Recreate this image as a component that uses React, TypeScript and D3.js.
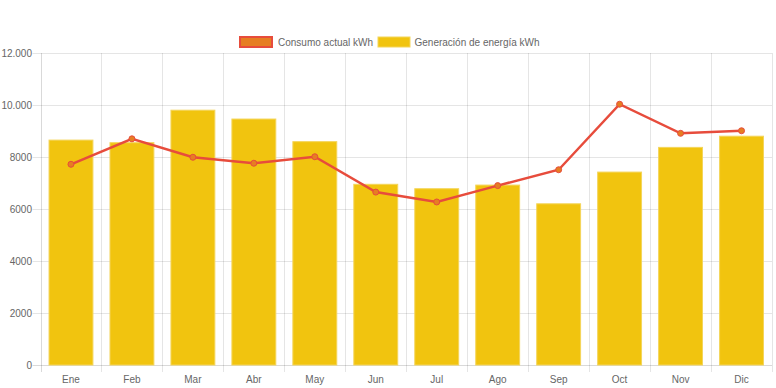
import React from "react";
import * as d3 from "d3";

const months = ["Ene", "Feb", "Mar", "Abr", "May", "Jun", "Jul", "Ago", "Sep", "Oct", "Nov", "Dic"];
const generacion = [8650, 8550, 9800, 9460, 8590, 6950, 6780, 6920, 6200, 7420, 8370, 8800];
const consumo = [7720, 8700, 7990, 7760, 8010, 6650, 6270, 6900, 7510, 10030, 8910, 9010];
const yTicks = [0, 2000, 4000, 6000, 8000, 10000, 12000];
const legendLabels = ["Consumo actual kWh", "Generación de energía kWh"];

const W = 776;
const H = 388;
const left = 40.5;
const right = 772;
const top = 53;
const bottom = 365;
const font = "'Liberation Sans', Arial, Helvetica, sans-serif";
const textColor = "#666";
const gridColor = "rgba(0,0,0,0.1)";
const fs = 10;

function fmt(v: number): string {
  if (v >= 10000) return d3.format(",")(v).replace(/,/g, ".");
  return String(v);
}

export default function App() {
  const x = d3.scaleBand<string>().domain(months).range([left, right]).paddingInner(0.28).paddingOuter(0.14);
  const step = x.step();
  const y = d3.scaleLinear().domain([0, 12000]).range([bottom, top]);
  const cx = (m: string) => (x(m) as number) + x.bandwidth() / 2;
  const line = d3
    .line<number>()
    .x((_, i) => cx(months[i]))
    .y((d) => y(d));

  const boundaries = d3.range(months.length + 1).map((i) => left + i * step);

  return (
    <svg
      width={W}
      height={H}
      style={{ position: "fixed", left: 0, top: 0, background: "#fff" }}
      fontFamily={font}
    >
      {yTicks.map((t) => (
        <g key={t}>
          <line x1={left - 8} x2={right} y1={Math.round(y(t)) + 0.5} y2={Math.round(y(t)) + 0.5} stroke={t === 0 ? "rgba(0,0,0,0.15)" : gridColor} />
          <text x={32} y={y(t)} dy="0.35em" textAnchor="end" fontSize={fs} fill={textColor}>
            {fmt(t)}
          </text>
        </g>
      ))}
      {boundaries.map((bx, i) => (
        <line
          key={i}
          x1={Math.round(bx) + 0.5}
          x2={Math.round(bx) + 0.5}
          y1={top}
          y2={bottom + 7}
          stroke={i === 0 ? "rgba(0,0,0,0.15)" : gridColor}
        />
      ))}
      {generacion.map((v, i) => (
        <rect
          key={months[i]}
          x={x(months[i]) as number}
          y={y(v)}
          width={x.bandwidth()}
          height={bottom - y(v)}
          fill="#F1C40F"
          stroke="#F4D55A"
          strokeWidth={1}
        />
      ))}
      <path d={line(consumo) as string} fill="none" stroke="#E74C3C" strokeWidth={2.5} />
      {consumo.map((v, i) => (
        <circle key={i} cx={cx(months[i])} cy={y(v)} r={3} fill="#E67E22" stroke="#E74C3C" strokeWidth={1} />
      ))}
      {months.map((m) => (
        <text key={m} x={cx(m)} y={379} dy="0.35em" textAnchor="middle" fontSize={fs} fill={textColor}>
          {m}
        </text>
      ))}
      <rect x={240} y={37} width={32} height={10} fill="#E67E22" stroke="#E74C3C" strokeWidth={2} />
      <text x={278} y={42} dy="0.35em" fontSize={fs} fill={textColor}>
        {legendLabels[0]}
      </text>
      <rect x={378} y={37} width={32} height={10} fill="#F1C40F" stroke="#F4D55A" strokeWidth={1} />
      <text x={414.5} y={42} dy="0.35em" fontSize={fs} fill={textColor}>
        {legendLabels[1]}
      </text>
    </svg>
  );
}
